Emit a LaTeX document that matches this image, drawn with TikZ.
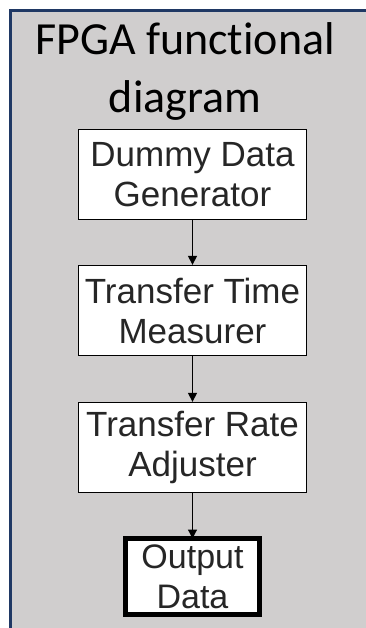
\documentclass[tikz,border=0pt]{standalone}
\usepackage{fontspec}
\setmainfont{Liberation Sans}
\newfontfamily\titlefont[Ligatures={NoCommon}]{Carlito}
\usetikzlibrary{arrows.meta}
\definecolor{panelgray}{HTML}{D0CECE}
\definecolor{panelnavy}{HTML}{1F3864}
\tikzset{
  blockbox/.style={draw=black, line width=1.3pt, fill=white, minimum width=228pt, minimum height=90pt,
    inner sep=0pt, align=center, font=\fontsize{35}{40}\selectfont, text=black!85},
  outbox/.style={draw=black, line width=5pt, fill=white, minimum width=134pt, minimum height=76pt,
    inner sep=0pt, align=center, font=\fontsize{34}{40}\selectfont, text=black!85},
  flow/.style={line width=1.2pt, -{Triangle[length=9pt,width=9pt]}},
  titletext/.style={font=\titlefont\fontsize{46}{58}\selectfont, anchor=base, inner sep=0pt}
}
\begin{document}
\begin{tikzpicture}[x=1pt,y=-1pt]
\useasboundingbox (0,0) rectangle (366,628);
\clip (0,0) rectangle (366,628);
\fill[white] (0,0) rectangle (366,628);
\draw[panelnavy, line width=3pt, fill=panelgray] (10.5,10.5) rectangle (400,700);
\node[titletext] (t1) at (185,55) {FPGA functional};
\node[titletext] (t2) at (185,113) {diagram};
\node[blockbox] (gen) at (192.5,174.5) {Dummy Data\\Generator};
\node[blockbox] (meas) at (192.5,310.5) {Transfer Time\\Measurer};
\node[blockbox] (adj) at (192.5,447.5) {Transfer Rate\\Adjuster};
\node[outbox] (out) at (192.5,576.5) {Output\\Data};
\draw[flow] (gen.south) -- (meas.north);
\draw[flow] (meas.south) -- (adj.north);
\draw[flow] (adj.south) -- ([yshift=-2.5pt]out.north);
\end{tikzpicture}
\end{document}
